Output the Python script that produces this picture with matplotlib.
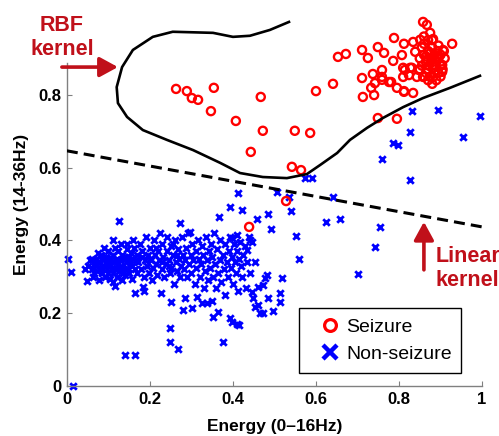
import matplotlib
matplotlib.use('Agg')
import matplotlib.pyplot as plt
from matplotlib.lines import Line2D
import numpy as np

plt.rcParams['font.family'] = ['Liberation Sans', 'DejaVu Sans']

# seizure samples (energy 0-16Hz, energy 14-36Hz)
seizure_x = [0.263, 0.289, 0.301, 0.316, 0.354, 0.347, 0.407, 0.467, 0.472, 0.443,
             0.549, 0.586, 0.600, 0.641, 0.653, 0.672, 0.542, 0.564, 0.528, 0.439,
             0.749, 0.795,
             0.711, 0.725, 0.749, 0.764, 0.788, 0.812, 0.807, 0.786, 0.711, 0.737,
             0.759, 0.759, 0.742, 0.733, 0.713, 0.740, 0.776, 0.795, 0.812, 0.810,
             0.810, 0.834, 0.843, 0.814, 0.824, 0.858, 0.867, 0.882, 0.906, 0.928,
             0.904, 0.827, 0.839, 0.851, 0.834, 0.781, 0.831, 0.759, 0.908, 0.904,
             0.882, 0.858, 0.848, 0.867, 0.812,
             0.855, 0.860, 0.865, 0.870, 0.875, 0.880, 0.885, 0.890, 0.870, 0.860,
             0.875, 0.880, 0.885, 0.890, 0.895, 0.900, 0.865, 0.855, 0.850, 0.870,
             0.880, 0.893, 0.860, 0.875, 0.885, 0.895, 0.870, 0.880, 0.900, 0.865,
             0.878, 0.890, 0.905, 0.895, 0.880, 0.850, 0.860, 0.910, 0.900, 0.872]
seizure_y = [0.816, 0.810, 0.791, 0.786, 0.819, 0.755, 0.728, 0.794, 0.701, 0.643,
             0.701, 0.695, 0.810, 0.830, 0.904, 0.912, 0.602, 0.593, 0.508, 0.437,
             0.736, 0.734,
             0.923, 0.901, 0.931, 0.915, 0.956, 0.940, 0.909, 0.893, 0.846, 0.857,
             0.868, 0.841, 0.832, 0.819, 0.794, 0.799, 0.835, 0.819, 0.808, 0.849,
             0.874, 0.805, 0.849, 0.868, 0.854, 1.000, 0.992, 0.953, 0.923, 0.940,
             0.882, 0.874, 0.918, 0.951, 0.945, 0.835, 0.874, 0.849, 0.920, 0.863,
             0.849, 0.849, 0.868, 0.896, 0.810,
             0.930, 0.910, 0.890, 0.870, 0.850, 0.930, 0.910, 0.890, 0.950, 0.960,
             0.970, 0.880, 0.860, 0.840, 0.900, 0.880, 0.860, 0.880, 0.900, 0.920,
             0.900, 0.920, 0.940, 0.915, 0.875, 0.860, 0.840, 0.830, 0.850, 0.905,
             0.895, 0.905, 0.870, 0.935, 0.950, 0.870, 0.850, 0.900, 0.910, 0.880]

# non-seizure samples
nonseizure_x = [
    # main cluster core
    0.050, 0.055, 0.060, 0.062, 0.065, 0.070, 0.072, 0.075, 0.078, 0.080,
    0.082, 0.085, 0.087, 0.090, 0.092, 0.094, 0.096, 0.098, 0.100, 0.100,
    0.102, 0.105, 0.106, 0.108, 0.110, 0.112, 0.114, 0.115, 0.117, 0.120,
    0.120, 0.122, 0.124, 0.125, 0.127, 0.130, 0.130, 0.132, 0.134, 0.136,
    0.138, 0.140, 0.142, 0.144, 0.146, 0.148, 0.150, 0.152, 0.155, 0.156,
    0.158, 0.160, 0.162, 0.165, 0.166, 0.168, 0.170, 0.110, 0.090, 0.075,
    0.065, 0.060, 0.085, 0.095, 0.105, 0.118, 0.128, 0.140, 0.150, 0.135,
    0.120, 0.100, 0.080, 0.070, 0.145, 0.160,
    # middle
    0.172, 0.175, 0.178, 0.180, 0.182, 0.185, 0.188, 0.190, 0.192, 0.195,
    0.198, 0.200, 0.202, 0.205, 0.208, 0.210, 0.212, 0.215, 0.218, 0.220,
    0.222, 0.225, 0.228, 0.230, 0.232, 0.235, 0.238, 0.240, 0.242, 0.245,
    0.248, 0.250, 0.252, 0.255, 0.258, 0.260, 0.262, 0.265, 0.268, 0.270,
    0.272, 0.275, 0.278, 0.280, 0.200, 0.215, 0.230, 0.245, 0.255, 0.265,
    # right part
    0.282, 0.285, 0.288, 0.290, 0.292, 0.295, 0.298, 0.300, 0.302, 0.305,
    0.308, 0.310, 0.312, 0.315, 0.318, 0.320, 0.322, 0.325, 0.328, 0.330,
    0.332, 0.335, 0.338, 0.340, 0.342, 0.345, 0.348, 0.350, 0.352, 0.355,
    0.358, 0.360, 0.362, 0.365, 0.368, 0.370, 0.372, 0.375, 0.378, 0.380,
    0.382, 0.385, 0.388, 0.390, 0.392, 0.395, 0.398, 0.400, 0.402, 0.405,
    0.408, 0.410, 0.412, 0.415, 0.418, 0.420, 0.422, 0.425, 0.430, 0.432,
    0.435, 0.440, 0.438,
    # outliers left / bottom
    0.002, 0.010, 0.015, 0.125, 0.140, 0.164, 0.248, 0.248, 0.267, 0.251,
    0.227, 0.280, 0.301, 0.284, 0.313, 0.325, 0.337, 0.349, 0.352, 0.376,
    0.364, 0.393, 0.398, 0.410, 0.414, 0.366, 0.272, 0.296, 0.164, 0.183,
    0.186, 0.048, 0.043, 0.116, 0.111,
    # scattered right
    0.831, 0.894, 0.995, 0.827, 0.954, 0.786, 0.798, 0.759, 0.827, 0.573,
    0.590, 0.506, 0.535, 0.641, 0.412, 0.540, 0.422, 0.484, 0.458, 0.658,
    0.624, 0.492, 0.393, 0.552, 0.754, 0.742, 0.441, 0.434, 0.410, 0.398,
    0.559, 0.701, 0.453, 0.482, 0.477, 0.518, 0.472, 0.460, 0.484, 0.513,
    0.513, 0.496, 0.448, 0.453, 0.460, 0.465, 0.472, 0.446, 0.446]
nonseizure_y = [
    0.330, 0.345, 0.320, 0.300, 0.335, 0.350, 0.315, 0.340, 0.290, 0.325,
    0.360, 0.310, 0.345, 0.330, 0.300, 0.355, 0.320, 0.340, 0.310, 0.370,
    0.335, 0.295, 0.350, 0.325, 0.360, 0.310, 0.340, 0.380, 0.320, 0.350,
    0.300, 0.335, 0.370, 0.315, 0.345, 0.330, 0.390, 0.290, 0.360, 0.320,
    0.350, 0.305, 0.340, 0.375, 0.325, 0.355, 0.310, 0.340, 0.365, 0.330,
    0.295, 0.350, 0.380, 0.320, 0.345, 0.310, 0.360, 0.400, 0.380, 0.365,
    0.310, 0.350, 0.325, 0.340, 0.330, 0.345, 0.325, 0.355, 0.345, 0.310,
    0.320, 0.350, 0.340, 0.330, 0.390, 0.400,
    0.340, 0.390, 0.320, 0.355, 0.370, 0.300, 0.345, 0.410, 0.330, 0.360,
    0.310, 0.380, 0.345, 0.290, 0.325, 0.400, 0.360, 0.335, 0.305, 0.370,
    0.345, 0.420, 0.320, 0.390, 0.355, 0.300, 0.335, 0.410, 0.370, 0.345,
    0.310, 0.385, 0.325, 0.360, 0.280, 0.400, 0.340, 0.315, 0.375, 0.350,
    0.300, 0.330, 0.410, 0.360, 0.350, 0.380, 0.340, 0.330, 0.390, 0.360,
    0.320, 0.345, 0.380, 0.300, 0.420, 0.335, 0.360, 0.310, 0.390, 0.345,
    0.280, 0.370, 0.325, 0.400, 0.350, 0.300, 0.335, 0.385, 0.360, 0.270,
    0.315, 0.410, 0.345, 0.290, 0.370, 0.325, 0.390, 0.355, 0.300, 0.420,
    0.335, 0.270, 0.375, 0.310, 0.400, 0.345, 0.285, 0.360, 0.320, 0.250,
    0.390, 0.340, 0.300, 0.370, 0.410, 0.325, 0.355, 0.280, 0.390, 0.340,
    0.310, 0.370, 0.260, 0.350, 0.395, 0.330, 0.300, 0.360, 0.385, 0.270,
    0.340, 0.310, 0.410,
    0.349, 0.313, 0.000, 0.453, 0.085, 0.085, 0.159, 0.121, 0.102, 0.231,
    0.255, 0.209, 0.214, 0.242, 0.245, 0.228, 0.228, 0.234, 0.190, 0.121,
    0.203, 0.187, 0.176, 0.170, 0.168, 0.464, 0.448, 0.423, 0.255, 0.272,
    0.261, 0.288, 0.321, 0.275, 0.286,
    0.755, 0.758, 0.742, 0.698, 0.684, 0.668, 0.662, 0.624, 0.566, 0.571,
    0.571, 0.533, 0.519, 0.519, 0.530, 0.481, 0.484, 0.473, 0.459, 0.459,
    0.451, 0.431, 0.492, 0.412, 0.437, 0.382, 0.401, 0.374, 0.415, 0.407,
    0.349, 0.308, 0.341, 0.305, 0.297, 0.297, 0.277, 0.272, 0.242, 0.255,
    0.231, 0.206, 0.242, 0.217, 0.223, 0.201, 0.201, 0.258, 0.396]

# RBF kernel decision boundary (traced)
rbf_x = [0.535, 0.489, 0.441, 0.400, 0.352, 0.255, 0.207, 0.159, 0.133, 0.120,
         0.123, 0.145, 0.183, 0.241, 0.304, 0.369, 0.417, 0.472, 0.530, 0.578,
         0.610, 0.651, 0.682, 0.723, 0.761, 0.810, 0.858, 0.923, 0.995]
rbf_y = [1.000, 0.978, 0.962, 0.959, 0.970, 0.973, 0.959, 0.923, 0.876, 0.821,
         0.777, 0.739, 0.703, 0.676, 0.648, 0.613, 0.585, 0.574, 0.571, 0.582,
         0.607, 0.640, 0.676, 0.709, 0.736, 0.766, 0.791, 0.819, 0.852]

# linear kernel decision boundary
lin_x = [0.0, 1.0]
lin_y = [0.646, 0.437]

red = '#ff0000'
blue = '#0000ff'
anno = '#c0101a'
axcol = '#808080'

fig = plt.figure(figsize=(4.99, 4.36), dpi=100)
ax = fig.add_axes([0.134, 0.1147, 0.832, 0.835])

ax.scatter(nonseizure_x, nonseizure_y, marker='x', s=22, linewidths=2.0,
           color=blue, clip_on=False, zorder=2)
ax.scatter(seizure_x, seizure_y, marker='o', s=34, linewidths=1.7,
           facecolors='none', edgecolors=red, clip_on=False, zorder=3)
ax.plot(rbf_x, rbf_y, color='black', lw=1.9, clip_on=False, zorder=4)
ax.plot(lin_x, lin_y, color='black', lw=2.2, dashes=(3.6, 2.0), zorder=4)

ax.set_xlim(0, 1)
ax.set_ylim(0, 1)
ax.set_xticks([0, 0.2, 0.4, 0.6, 0.8, 1])
ax.set_xticklabels(['0', '0.2', '0.4', '0.6', '0.8', '1'])
ax.set_yticks([0, 0.2, 0.4, 0.6, 0.8])
ax.set_yticklabels(['0', '0.2', '0.4', '0.6', '0.8'])
for side in ['top', 'right']:
    ax.spines[side].set_visible(False)
ax.spines['left'].set_bounds(0, 0.887)
for side in ['left', 'bottom']:
    ax.spines[side].set_color(axcol)
    ax.spines[side].set_linewidth(1.0)
ax.tick_params(direction='in', length=3.5, color=axcol, labelsize=12, pad=4)
for lab in ax.get_xticklabels() + ax.get_yticklabels():
    lab.set_fontweight('bold')

ax.set_xlabel('Energy (0\u201316Hz)', fontsize=12.5, fontweight='bold', labelpad=9)
ax.set_ylabel('Energy (14-36Hz)', fontsize=12.5, fontweight='bold', labelpad=7)

# annotations
ax.annotate('', xy=(0.123, 0.876), xytext=(-0.012, 0.876),
            arrowprops=dict(arrowstyle='-|>,head_length=0.55,head_width=0.3',
                            mutation_scale=20, lw=2.6, color=anno, shrinkA=0, shrinkB=0),
            annotation_clip=False)
ax.text(-0.012, 0.958, 'RBF\nkernel', color=anno, fontsize=15.5, fontweight='bold',
        ha='center', va='center', linespacing=1.2, clip_on=False)
ax.annotate('', xy=(0.860, 0.451), xytext=(0.860, 0.319),
            arrowprops=dict(arrowstyle='-|>,head_length=0.55,head_width=0.3',
                            mutation_scale=20, lw=2.6, color=anno, shrinkA=0, shrinkB=0),
            annotation_clip=False)
ax.text(0.888, 0.322, 'Linear\nkernel', color=anno, fontsize=15.5, fontweight='bold',
        ha='left', va='center', linespacing=1.2, clip_on=False)

handles = [Line2D([], [], ls='none', marker='o', ms=8.5, mew=2.3, mfc='none', mec=red),
           Line2D([], [], ls='none', marker='x', ms=10, mew=3.2, color=blue)]
leg = ax.legend(handles, ['Seizure', 'Non-seizure'], loc='lower left',
                bbox_to_anchor=(0.559, 0.036), borderaxespad=0, fontsize=14,
                frameon=True, fancybox=False, edgecolor='black', framealpha=1,
                borderpad=0.5, handlelength=2.2, handletextpad=-0.28,
                labelspacing=0.5)
leg.get_frame().set_linewidth(1.0)

fig.savefig('out.png', dpi=100)
